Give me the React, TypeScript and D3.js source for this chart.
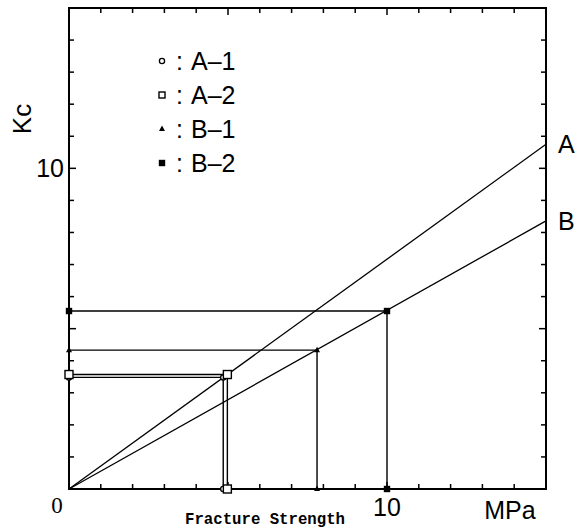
import * as d3 from "d3";

// data
const seriesNames = ["A–1", "A–2", "B–1", "B–2"];
const seriesShapes = ["circle", "square", "triangle", "filledSquare"];
const strength = [4.85, 4.98, 7.8, 10.0];
const kc = [3.48, 3.57, 4.33, 5.55];

const lineNames = ["A", "B"];
const lineKcAtMax = [10.75, 8.36];

const xTickLabels = [0, 10];
const yTickLabels = [10];

const W = 580;
const H = 532;

const Marker = ({x, y, shape, small}: {x: number; y: number; shape: string; small?: boolean}) => {
  const s = small ? 3 : 4;
  if (shape === "circle") return <circle cx={x} cy={y} r={2.6} fill="#fff" stroke="#000" strokeWidth={1.3}/>;
  if (shape === "square") return <rect x={x - s} y={y - s} width={2 * s} height={2 * s} fill="#fff" stroke="#000" strokeWidth={1.4}/>;
  if (shape === "triangle") return <path d={`M${x},${y - 3.5}L${x + 3},${y + 2}L${x - 3},${y + 2}Z`} fill="#000"/>;
  return <rect x={x - 3.2} y={y - 3.2} width={6.4} height={6.4} fill="#000"/>;
};

const App = () => {
  const x = d3.scaleLinear().domain([0, 15]).range([69, 546]);
  const y = d3.scaleLinear().domain([0, 15]).range([489, 8]);
  const ticks = d3.range(1, 15);
  const sans = "'Liberation Sans', Arial, sans-serif";
  const lineGen = d3.line<[number, number]>().x(d => x(d[0])).y(d => y(d[1]));

  return (
    <svg width={W} height={H} style={{position: "absolute", left: 0, top: 0, background: "#fff"}}>
      {/* frame */}
      <rect x={x(0)} y={y(15)} width={x(15) - x(0)} height={y(0) - y(15)} fill="none" stroke="#000" strokeWidth={2}/>
      {/* ticks, inward on all sides */}
      {ticks.map(t => {
        const len = t % 5 === 0 ? 7 : 5;
        return (
          <g key={t} stroke="#000" strokeWidth={1.5}>
            <line x1={x(t)} x2={x(t)} y1={y(0)} y2={y(0) - len}/>
            <line x1={x(t)} x2={x(t)} y1={y(15)} y2={y(15) + len}/>
            <line x1={x(0)} x2={x(0) + len} y1={y(t)} y2={y(t)}/>
            <line x1={x(15)} x2={x(15) - len} y1={y(t)} y2={y(t)}/>
          </g>
        );
      })}
      {/* reference lines A and B */}
      {lineNames.map((n, i) => (
        <g key={n}>
          <path d={lineGen([[0, 0], [15, lineKcAtMax[i]]]) ?? ""} fill="none" stroke="#000" strokeWidth={1.3}/>
          <text x={x(15) + 12} y={y(lineKcAtMax[i]) + 9} fontFamily={sans} fontSize={25}>{n}</text>
        </g>
      ))}
      {/* projections of data points */}
      {strength.map((s, i) => (
        <g key={i} stroke="#000" strokeWidth={1.4} fill="none">
          <path d={lineGen([[0, kc[i]], [s, kc[i]], [s, 0]]) ?? ""}/>
        </g>
      ))}
      {strength.map((s, i) => (
        <g key={i}>
          <Marker x={x(0)} y={y(kc[i])} shape={seriesShapes[i]}/>
          <Marker x={x(s)} y={y(0)} shape={seriesShapes[i]}/>
          <Marker x={x(s)} y={y(kc[i])} shape={seriesShapes[i]}/>
        </g>
      ))}
      {/* legend */}
      {seriesNames.map((n, i) => (
        <g key={n}>
          <Marker x={162} y={61 + i * 34} shape={seriesShapes[i]} small/>
          <text x={176} y={70 + i * 34} fontFamily={sans} fontSize={25}>:</text>
          <text x={191} y={70 + i * 34} fontFamily={sans} fontSize={25}>{n}</text>
        </g>
      ))}
      {/* axis labels */}
      {xTickLabels.map(t => t === 0 ? (
        <text key={t} x={57} y={513} fontFamily="'Liberation Serif', serif" fontSize={23} textAnchor="middle">0</text>
      ) : (
        <text key={t} x={x(t)} y={516} fontFamily={sans} fontSize={25} textAnchor="middle">{t}</text>
      ))}
      {yTickLabels.map(t => (
        <text key={t} x={64} y={y(t) + 9} fontFamily={sans} fontSize={25} textAnchor="end">{t}</text>
      ))}
      <text x={510} y={519} fontFamily={sans} fontSize={25} textAnchor="middle">MPa</text>
      <text transform="translate(31,119) rotate(-90)" fontFamily={sans} fontSize={26} textAnchor="middle">Kc</text>
      <text x={185} y={524} fontFamily="'Liberation Mono', monospace" fontWeight="bold" fontSize={17} textLength={160} lengthAdjust="spacingAndGlyphs">Fracture Strength</text>
    </svg>
  );
};

export default App;
